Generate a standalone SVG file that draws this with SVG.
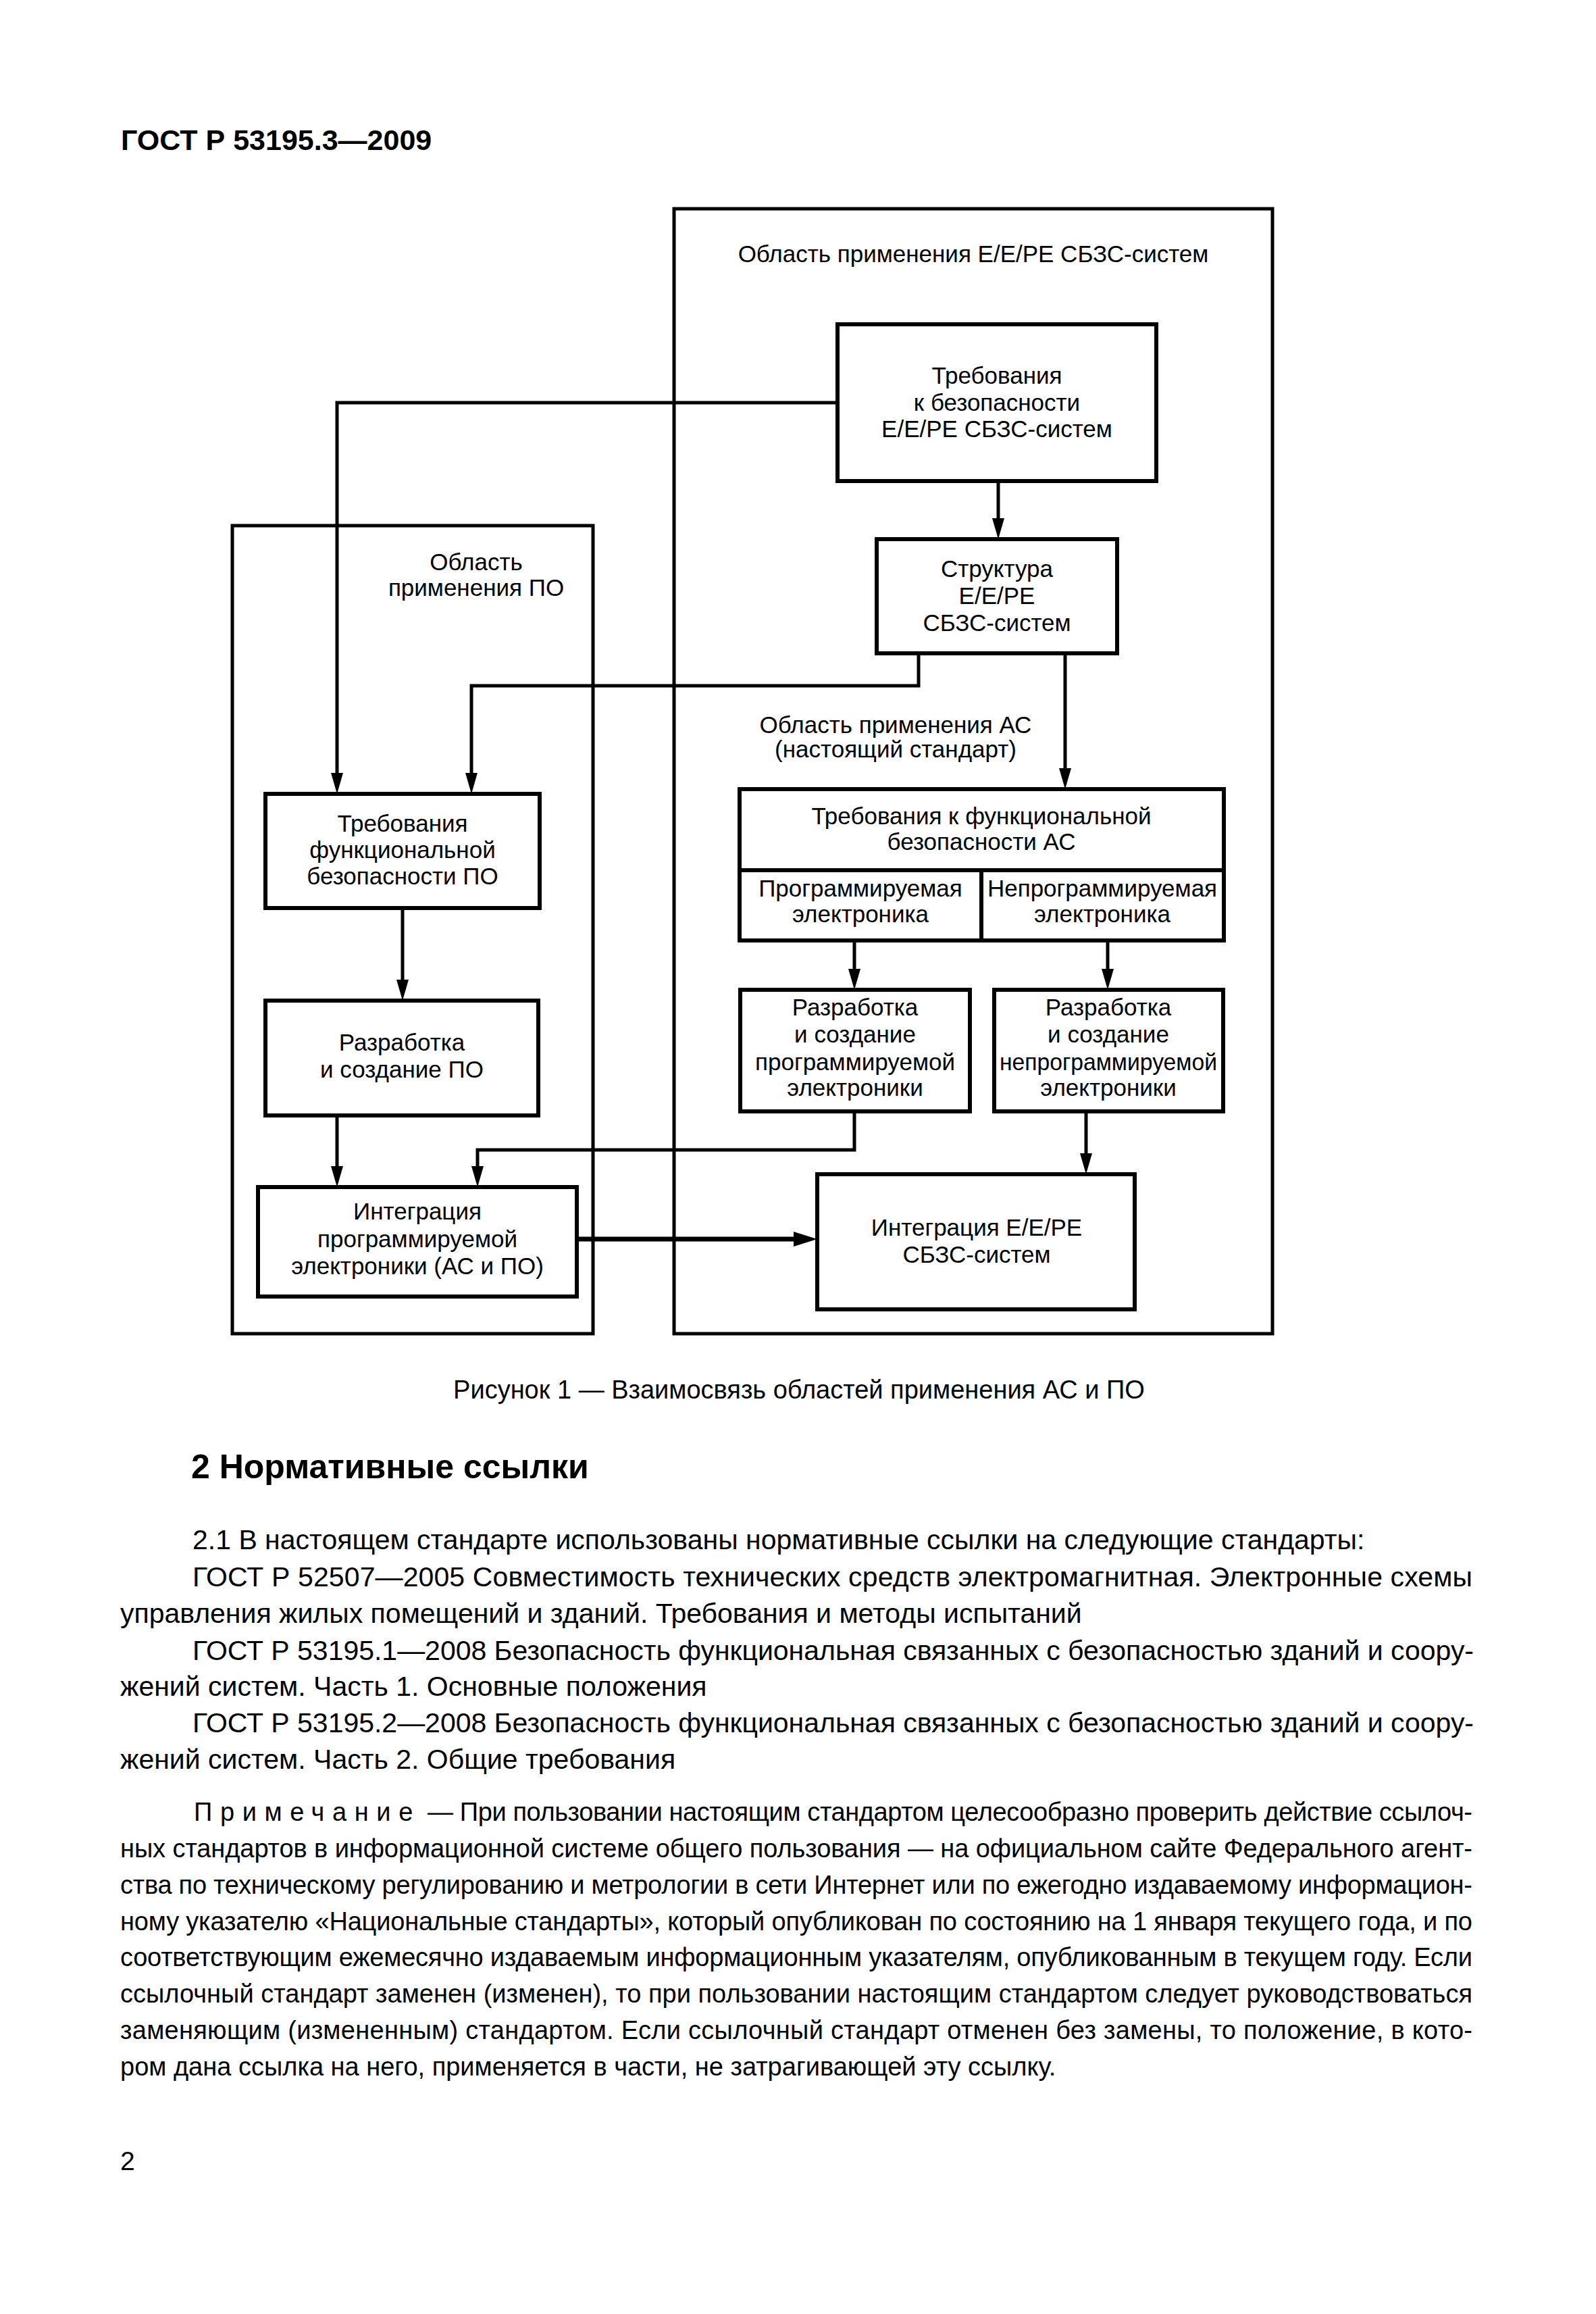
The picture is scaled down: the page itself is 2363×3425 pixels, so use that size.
<svg xmlns="http://www.w3.org/2000/svg" width="2363" height="3425" viewBox="0 0 2363 3425">
<style>
text{font-family:"Liberation Sans",Arial,sans-serif;fill:#000}
.d{font-size:35px;text-anchor:middle}
.box{fill:#fff;stroke:#000;stroke-width:6}
.area{fill:none;stroke:#000;stroke-width:5}
.c{fill:none;stroke:#000;stroke-width:5}
.cb{fill:none;stroke:#000;stroke-width:7}
.b{font-size:41px}
.n{font-size:38px}
</style>
<defs>
<marker id="ar" markerUnits="userSpaceOnUse" markerWidth="32" markerHeight="20" refX="15" refY="9" orient="auto"><path d="M0,0 L31,9 L0,18 Z" fill="#000"/></marker>
<marker id="arb" markerUnits="userSpaceOnUse" markerWidth="36" markerHeight="24" refX="17" refY="11" orient="auto"><path d="M0,0 L35,11 L0,22 Z" fill="#000"/></marker>
</defs>
<rect width="2363" height="3425" fill="#fff"/>
<text x="179" y="222" style="font-size:43px;font-weight:bold">ГОСТ Р<tspan dx="12">53195.3—2009</tspan></text>

<g id="area-eepe"><rect class="area" x="998" y="309" width="886" height="1665"/><text class="d" x="1441" y="388">Область применения Е/Е/РЕ СБЗС-систем</text></g>
<g id="area-po"><rect class="area" x="344" y="778" width="534" height="1196"/><text class="d" x="705" y="844">Область</text><text class="d" x="705" y="882">применения ПО</text></g>

<g id="connectors">
<path class="c" d="M1240,596 H499 V1159" marker-end="url(#ar)"/>
<path class="c" d="M1478,712 V782" marker-end="url(#ar)"/>
<path class="c" d="M1360,967 V1015 H698 V1159" marker-end="url(#ar)"/>
<path class="c" d="M1577,967 V1152" marker-end="url(#ar)"/>
<path class="c" d="M596,1344 V1465" marker-end="url(#ar)"/>
<path class="c" d="M1265,1392 V1449" marker-end="url(#ar)"/>
<path class="c" d="M1640,1392 V1449" marker-end="url(#ar)"/>
<path class="c" d="M499,1651 V1741" marker-end="url(#ar)"/>
<path class="c" d="M1265,1645 V1702 H707 V1741" marker-end="url(#ar)"/>
<path class="c" d="M1608,1645 V1722" marker-end="url(#ar)"/>
<path class="cb" d="M854,1834 H1192" marker-end="url(#arb)"/>
</g>

<g id="req-eepe"><rect class="box" x="1240" y="480" width="472" height="232"/><text class="d" x="1476" y="568">Требования</text><text class="d" x="1476" y="608">к безопасности</text><text class="d" x="1476" y="647">Е/Е/РЕ СБЗС-систем</text></g>
<g id="struct"><rect class="box" x="1298" y="798" width="356" height="169"/><text class="d" x="1476" y="854">Структура</text><text class="d" x="1476" y="894">Е/Е/РЕ</text><text class="d" x="1476" y="934">СБЗС-систем</text></g>
<g id="label-ac"><text class="d" x="1326" y="1085">Область применения АС</text><text class="d" x="1326" y="1121">(настоящий стандарт)</text></g>
<g id="req-ac"><rect class="box" x="1095" y="1168" width="717" height="224"/><path class="box" d="M1095,1288 H1812 M1453,1288 V1392"/><text class="d" x="1453" y="1220">Требования к функциональной</text><text class="d" x="1453" y="1258">безопасности АС</text><text class="d" x="1274" y="1327">Программируемая</text><text class="d" x="1274" y="1365">электроника</text><text class="d" x="1632" y="1327">Непрограммируемая</text><text class="d" x="1632" y="1365">электроника</text></g>
<g id="req-po"><rect class="box" x="393" y="1175" width="406" height="169"/><text class="d" x="596" y="1231">Требования</text><text class="d" x="596" y="1270">функциональной</text><text class="d" x="596" y="1309">безопасности ПО</text></g>
<g id="dev-po"><rect class="box" x="393" y="1481" width="404" height="170"/><text class="d" x="595" y="1555">Разработка</text><text class="d" x="595" y="1595">и создание ПО</text></g>
<g id="dev-prog"><rect class="box" x="1096" y="1465" width="340" height="180"/><text class="d" x="1266" y="1503">Разработка</text><text class="d" x="1266" y="1543">и создание</text><text class="d" x="1266" y="1584">программируемой</text><text class="d" x="1266" y="1622">электроники</text></g>
<g id="dev-nonprog"><rect class="box" x="1472" y="1465" width="339" height="180"/><text class="d" x="1641" y="1503">Разработка</text><text class="d" x="1641" y="1543">и создание</text><text class="d" x="1641" y="1584" textLength="322" lengthAdjust="spacingAndGlyphs">непрограммируемой</text><text class="d" x="1641" y="1622">электроники</text></g>
<g id="int-po"><rect class="box" x="382" y="1757" width="472" height="162"/><text class="d" x="618" y="1805">Интеграция</text><text class="d" x="618" y="1846">программируемой</text><text class="d" x="618" y="1886">электроники (АС и ПО)</text></g>
<g id="int-eepe"><rect class="box" x="1210" y="1738" width="470" height="200"/><text class="d" x="1446" y="1829">Интеграция Е/Е/РЕ</text><text class="d" x="1446" y="1869">СБЗС-систем</text></g>

<text x="1183" y="2070" style="font-size:38px;text-anchor:middle">Рисунок 1 — Взаимосвязь областей применения АС и ПО</text>
<text x="283" y="2188" style="font-size:50px;font-weight:bold">2 Нормативные ссылки</text>

<g id="body">
<text class="b" x="285" y="2293">2.1 В настоящем стандарте использованы нормативные ссылки на следующие стандарты:</text>
<text class="b" x="285" y="2348" textLength="1895" lengthAdjust="spacing">ГОСТ Р 52507—2005 Совместимость технических средств электромагнитная. Электронные схемы</text>
<text class="b" x="178" y="2402">управления жилых помещений и зданий. Требования и методы испытаний</text>
<text class="b" x="285" y="2457" textLength="1897" lengthAdjust="spacing">ГОСТ Р 53195.1—2008 Безопасность функциональная связанных с безопасностью зданий и соору-</text>
<text class="b" x="178" y="2510">жений систем. Часть 1. Основные положения</text>
<text class="b" x="285" y="2564" textLength="1897" lengthAdjust="spacing">ГОСТ Р 53195.2—2008 Безопасность функциональная связанных с безопасностью зданий и соору-</text>
<text class="b" x="178" y="2618">жений систем. Часть 2. Общие требования</text>
</g>
<g id="note">
<text class="n" x="287" y="2695" textLength="1893" lengthAdjust="spacing"><tspan letter-spacing="12">Примечание</tspan> — При пользовании настоящим стандартом целесообразно проверить действие ссылоч-</text>
<text class="n" x="178" y="2749" textLength="2002" lengthAdjust="spacing">ных стандартов в информационной системе общего пользования — на официальном сайте Федерального агент-</text>
<text class="n" x="178" y="2803" textLength="2002" lengthAdjust="spacing">ства по техническому регулированию и метрологии в сети Интернет или по ежегодно издаваемому информацион-</text>
<text class="n" x="178" y="2857" textLength="2002" lengthAdjust="spacing">ному указателю «Национальные стандарты», который опубликован по состоянию на 1 января текущего года, и по</text>
<text class="n" x="178" y="2910" textLength="2002" lengthAdjust="spacing">соответствующим ежемесячно издаваемым информационным указателям, опубликованным в текущем году. Если</text>
<text class="n" x="178" y="2964" textLength="2002" lengthAdjust="spacing">ссылочный стандарт заменен (изменен), то при пользовании настоящим стандартом следует руководствоваться</text>
<text class="n" x="178" y="3018" textLength="2002" lengthAdjust="spacing">заменяющим (измененным) стандартом. Если ссылочный стандарт отменен без замены, то положение, в кото-</text>
<text class="n" x="178" y="3072">ром дана ссылка на него, применяется в части, не затрагивающей эту ссылку.</text>
</g>
<text x="178" y="3212" style="font-size:39px">2</text>
</svg>
